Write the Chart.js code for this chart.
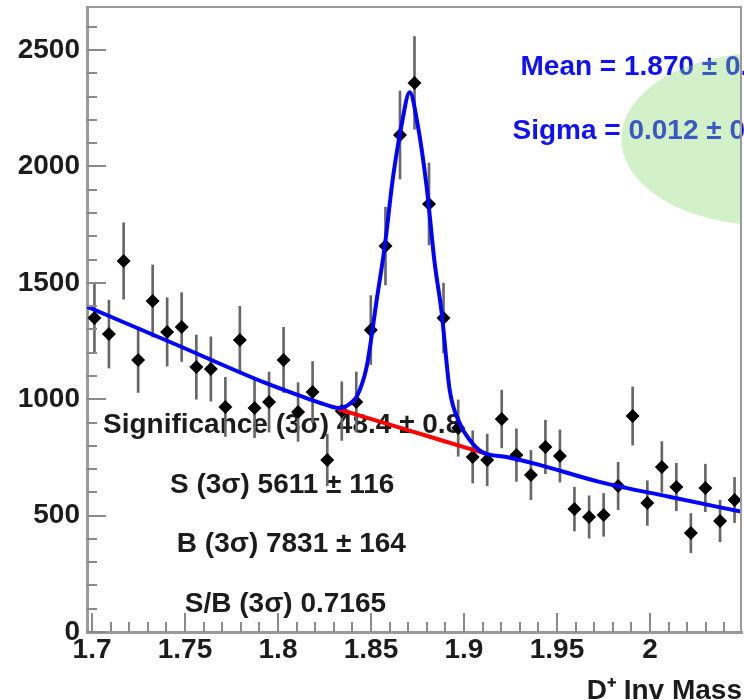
<!DOCTYPE html>
<html lang="en">
<head>
<meta charset="UTF-8">
<title>D+ Invariant Mass Fit</title>
<script src="https://cdn.jsdelivr.net/npm/chart.js"></script>
<style>
  * { margin: 0; padding: 0; box-sizing: border-box; }
  body { background: #fff; width: 744px; height: 700px; overflow: hidden; }
  canvas { display: block; }
</style>
</head>
<body>
<canvas id="massChart" width="744" height="700"></canvas>
<script>
// histogram bin centres (GeV) and contents
const massBins = [
  1.7013, 1.7091, 1.7170, 1.7248, 1.7326, 1.7404, 1.7482, 1.7561, 1.7639, 1.7717,
  1.7795, 1.7874, 1.7952, 1.8030, 1.8108, 1.8186, 1.8265, 1.8343, 1.8421, 1.8499,
  1.8578, 1.8656, 1.8734, 1.8812, 1.8890, 1.8969, 1.9047, 1.9125, 1.9203, 1.9282,
  1.9360, 1.9438, 1.9516, 1.9594, 1.9673, 1.9751, 1.9829, 1.9907, 1.9986, 2.0064,
  2.0142, 2.0220, 2.0298, 2.0377, 2.0455
];
const counts = [
  1349, 1280, 1594, 1169, 1422, 1289, 1310, 1138, 1130, 967,
  1254, 962, 988, 1169, 945, 1031, 739, 949, 988, 1297,
  1658, 2135, 2359, 1839, 1349, 876, 752, 739, 915, 760,
  674, 795, 756, 528, 494, 503, 627, 928, 554, 709,
  623, 425, 619, 477, 567
];
const errors = [
  150, 146, 164, 140, 155, 147, 148, 138, 138, 127,
  145, 127, 129, 140, 126, 131, 111, 126, 129, 148,
  167, 189, 199, 176, 150, 121, 112, 111, 124, 113,
  106, 115, 112, 94, 91, 92, 102, 125, 96, 109,
  102, 84, 102, 89, 97
];

// total fit (signal + background)
const fitMass = [
  1.6973, 1.7451, 1.7929, 1.8117, 1.8251, 1.8332, 1.8386, 1.8423, 1.8477, 1.8531,
  1.8574, 1.8617, 1.8665, 1.8708, 1.8751, 1.8799, 1.8842, 1.8880, 1.8923, 1.8976,
  1.9030, 1.9100, 1.9229, 1.9406, 1.9728, 2.0104, 2.0495
];
const fitTotal = [
  1398, 1235, 1071, 1015, 978, 962, 980, 1010, 1140, 1428,
  1656, 1945, 2180, 2319, 2180, 1915, 1588, 1372, 1041, 899,
  826, 772, 752, 718, 645, 581, 516
];
// background only inside the 3 sigma window (red)
const bgMass = [1.8321, 1.8654, 1.8869, 1.9121];
const bgValues = [958, 878, 826, 765];

const xTickValues = [1.7, 1.75, 1.8, 1.85, 1.9, 1.95, 2];
const yTickValues = [0, 500, 1000, 1500, 2000, 2500];

const fitLabels = ['Mean = 1.870 \u00b1 0.000', 'Sigma = 0.012 \u00b1 0.000'];
const yieldLabels = [
  'Significance (3\u03c3) 48.4 \u00b1 0.8',
  'S (3\u03c3) 5611 \u00b1 116',
  'B (3\u03c3) 7831 \u00b1 164',
  'S/B (3\u03c3) 0.7165'
];

const FONT = '"Liberation Sans", Arial, Helvetica, sans-serif';
const INK = '#1c1c1c';

// where the text boxes sit, in axis units (left edge, baseline)
const fitLabelAnchors = [[1.9304, 2392], [1.9261, 2118]];
const yieldAnchors = [[1.7059, 853], [1.7419, 597], [1.7456, 344], [1.7499, 86]];
const statsEllipse = { x: 2.0614, y: 2118, rx: 0.0768, ry: 370 };

const rootStyle = {
  id: 'rootStyle',
  beforeDatasetsDraw(chart) {
    const { ctx, scales: { x, y } } = chart;
    ctx.save();
    ctx.font = 'bold 28px ' + FONT;
    ctx.textBaseline = 'alphabetic';
    ctx.textAlign = 'left';
    ctx.fillStyle = INK;
    yieldLabels.forEach((t, i) => {
      ctx.fillText(t, x.getPixelForValue(yieldAnchors[i][0]), y.getPixelForValue(yieldAnchors[i][1]));
    });
    ctx.fillStyle = '#1010f5';
    fitLabels.forEach((t, i) => {
      ctx.fillText(t, x.getPixelForValue(fitLabelAnchors[i][0]), y.getPixelForValue(fitLabelAnchors[i][1]));
    });
    ctx.restore();
  },
  afterDatasetsDraw(chart) {
    const { ctx, chartArea: a, scales: { x, y } } = chart;
    ctx.save();

    // translucent stats ellipse over the blue text
    ctx.beginPath();
    ctx.rect(a.left, a.top, a.right - a.left, a.bottom - a.top);
    ctx.clip();
    const cx = x.getPixelForValue(statsEllipse.x);
    const cy = y.getPixelForValue(statsEllipse.y);
    const rx = x.getPixelForValue(statsEllipse.x + statsEllipse.rx) - cx;
    const ry = cy - y.getPixelForValue(statsEllipse.y + statsEllipse.ry);
    ctx.beginPath();
    ctx.ellipse(cx, cy, rx, ry, 0, 0, Math.PI * 2);
    ctx.fillStyle = 'rgba(130, 215, 105, 0.36)';
    ctx.fill();
    ctx.restore();

    // top and right frame
    ctx.save();
    ctx.strokeStyle = '#9a9a9a';
    ctx.lineWidth = 2;
    ctx.beginPath();
    ctx.moveTo(a.left, a.top);
    ctx.lineTo(a.right - 1, a.top);
    ctx.lineTo(a.right - 1, a.bottom);
    ctx.stroke();

    // inward tick marks, ROOT style
    ctx.strokeStyle = '#8a8a8a';
    ctx.lineWidth = 2;
    ctx.beginPath();
    for (let v = 0; v <= y.max; v += 100) {
      const py = Math.round(y.getPixelForValue(v));
      const len = v % 500 === 0 ? 19 : 10;
      ctx.moveTo(a.left, py);
      ctx.lineTo(a.left + len, py);
    }
    for (let k = 170; k <= 204; k++) {
      const px = Math.round(x.getPixelForValue(k / 100));
      const len = k % 5 === 0 ? 19 : 10;
      ctx.moveTo(px, a.bottom);
      ctx.lineTo(px, a.bottom - len);
    }
    ctx.stroke();
    ctx.restore();
  }
};

const tickFont = { family: FONT, size: 28, weight: 'bold', lineHeight: 1 };

new Chart(document.getElementById('massChart').getContext('2d'), {
  type: 'scatter',
  data: {
    datasets: [
      {
        type: 'line',
        label: 'Fit',
        data: fitMass.map((m, i) => ({ x: m, y: fitTotal[i] })),
        borderColor: '#0000ff',
        borderWidth: 4,
        pointRadius: 0,
        showLine: true,
        fill: false,
        cubicInterpolationMode: 'monotone',
        order: 1
      },
      {
        type: 'line',
        label: 'Background',
        data: bgMass.map((m, i) => ({ x: m, y: bgValues[i] })),
        borderColor: '#ff0000',
        borderWidth: 4,
        pointRadius: 0,
        showLine: true,
        fill: false,
        cubicInterpolationMode: 'monotone',
        order: 2
      },
      {
        type: 'scatter',
        label: 'Data',
        data: massBins.map((m, i) => ({ x: m, y: counts[i] })),
        pointStyle: 'rectRot',
        pointRadius: 7,
        backgroundColor: '#000',
        borderWidth: 0,
        order: 3
      },
      {
        type: 'bar',
        label: 'Errors',
        data: massBins.map((m, i) => ({ x: m, y: [counts[i] - errors[i], counts[i] + errors[i]] })),
        backgroundColor: '#676767',
        barThickness: 2,
        grouped: false,
        order: 4
      }
    ]
  },
  options: {
    responsive: false,
    animation: false,
    devicePixelRatio: 1,
    layout: { autoPadding: false, padding: { top: 7, right: 2, left: 0, bottom: 0 } },
    plugins: { legend: { display: false }, tooltip: { enabled: false } },
    scales: {
      x: {
        type: 'linear',
        offset: false,
        min: 1.6973,
        max: 2.0495,
        afterBuildTicks: s => { s.ticks = xTickValues.map(v => ({ value: v })); },
        afterFit: s => { s.height = 68; s.paddingLeft = 0; s.paddingRight = 0; },
        grid: { display: false, drawTicks: false, offset: false },
        border: { display: true, color: '#9a9a9a', width: 3 },
        ticks: { font: tickFont, color: INK, padding: 4, maxRotation: 0, autoSkip: false, callback: v => String(v) },
        title: {
          display: true,
          text: 'D\u207a Inv Mass',
          align: 'end',
          color: INK,
          font: tickFont,
          padding: { top: 0, bottom: -5 }
        }
      },
      y: {
        type: 'linear',
        min: 0,
        max: 2685,
        afterBuildTicks: s => { s.ticks = yTickValues.map(v => ({ value: v })); },
        afterFit: s => { s.width = 87; s.paddingTop = 0; s.paddingBottom = 0; },
        grid: { display: false, drawTicks: false },
        border: { display: true, color: '#9a9a9a', width: 3 },
        ticks: { font: tickFont, color: INK, padding: 7, callback: v => String(v) }
      }
    }
  },
  plugins: [rootStyle]
});
</script>
</body>
</html>
